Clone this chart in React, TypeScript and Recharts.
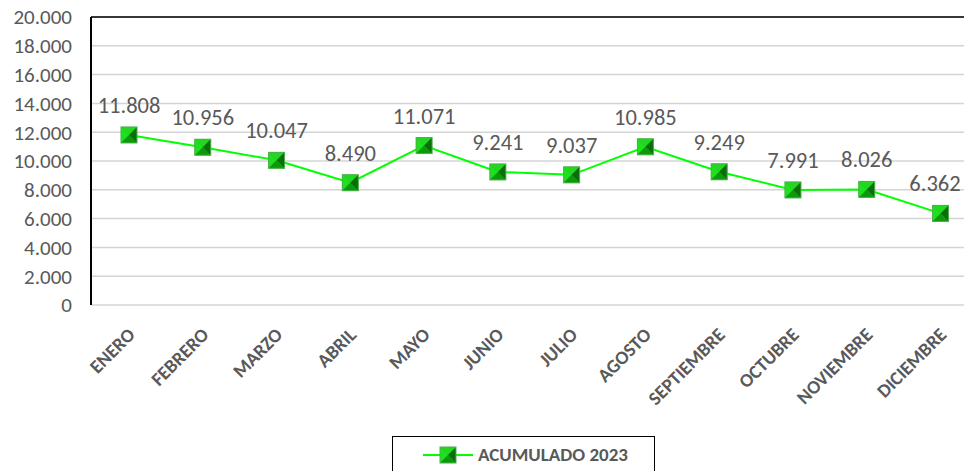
import React from "react";
import { LineChart, Line, XAxis, YAxis, CartesianGrid, LabelList, Legend, ReferenceLine } from "recharts";

const months = ["ENERO", "FEBRERO", "MARZO", "ABRIL", "MAYO", "JUNIO", "JULIO", "AGOSTO", "SEPTIEMBRE", "OCTUBRE", "NOVIEMBRE", "DICIEMBRE"];
const acumulado2023 = [11808, 10956, 10047, 8490, 11071, 9241, 9037, 10985, 9249, 7991, 8026, 6362];
const yTicks = [0, 2000, 4000, 6000, 8000, 10000, 12000, 14000, 16000, 18000, 20000];
const seriesName = "ACUMULADO 2023";

const data = months.map((m, i) => ({ month: m, value: acumulado2023[i] }));

const FONT = "Carlito, Lato, 'Liberation Sans', sans-serif";
const GREY = "#595959";

const fmtThousands = (v: number) => {
  if (v === 0) return "0";
  const s = String(v);
  return s.slice(0, s.length - 3) + "." + s.slice(s.length - 3);
};

function Marker(props: any) {
  const { cx, cy } = props;
  if (cx == null || cy == null) return null;
  const s = 8;
  return (
    <g>
      <rect x={cx - s} y={cy - s} width={s * 2} height={s * 2} fill="#12c812" />
      <polygon points={`${cx - s},${cy - s} ${cx + s},${cy - s} ${cx},${cy}`} fill="#22d622" />
      <polygon points={`${cx - s},${cy - s} ${cx - s},${cy + s} ${cx},${cy}`} fill="#1ee01e" />
      <polygon points={`${cx + s},${cy - s} ${cx + s},${cy + s} ${cx},${cy}`} fill="#0b6e0b" />
      <polygon points={`${cx - s},${cy + s} ${cx + s},${cy + s} ${cx},${cy}`} fill="#0c9a0c" />
      <rect x={cx - s} y={cy - s} width={s * 2} height={s * 2} fill="none" stroke="#4caf4c" strokeWidth={1} />
    </g>
  );
}

function MonthTick(props: any) {
  const { x, y, payload } = props;
  return (
    <text
      transform={`translate(${x + 7},${y + 31}) rotate(-45)`}
      textAnchor="end"
      fontFamily={FONT}
      fontSize={19}
      fontWeight="bold"
      fill={GREY}
    >
      {payload.value}
    </text>
  );
}

// value label above each point; keep the last one inside the picture
function ValueLabel(props: any) {
  const { x, y, value } = props;
  const txt = fmtThousands(Number(value));
  const cx = Math.min(x, 935);
  return (
    <text x={cx} y={y - 22} textAnchor="middle" fontFamily={FONT} fontSize={22.5} fill={GREY}>
      {txt}
    </text>
  );
}

function LegendBox() {
  return (
    <div
      style={{
        width: 263,
        height: 40,
        border: "1.5px solid #000",
        boxSizing: "border-box",
        display: "flex",
        alignItems: "flex-start",
        paddingTop: 8,
        paddingLeft: 30,
        fontFamily: FONT,
        fontSize: 19,
        fontWeight: "bold",
        color: GREY,
        background: "#fff",
      }}
    >
      <svg width={50} height={20} style={{ marginRight: 5 }}>
        <line x1={0} y1={10} x2={50} y2={10} stroke="#00ff00" strokeWidth={2} />
        <Marker cx={25} cy={10} />
      </svg>
      <span style={{ lineHeight: "20px" }}>{seriesName}</span>
    </div>
  );
}

export default function App() {
  return (
    <div style={{ position: "absolute", left: 0, top: 0, width: 964, height: 471, background: "#fff", overflow: "hidden" }}>
      <LineChart width={964} height={471} data={data} margin={{ top: 17, right: 0, bottom: 0, left: 0 }}>
        <CartesianGrid vertical={false} stroke="#d4d4d4" strokeWidth={1.5} />
        <XAxis
          dataKey="month"
          scale="point"
          padding={{ left: 38, right: 23.5 }}
          axisLine={false}
          tickLine={false}
          tickSize={0}
          tickMargin={0}
          height={131}
          interval={0}
          tick={<MonthTick />}
        />
        <YAxis
          width={91}
          domain={[0, 20000]}
          ticks={yTicks}
          interval={0}
          tickFormatter={fmtThousands}
          axisLine={{ stroke: "#000", strokeWidth: 2 }}
          tickLine={false}
          tickSize={0}
          tickMargin={19}
          tick={{ fontFamily: FONT, fontSize: 21, fill: GREY }}
        />
        <ReferenceLine y={20000} stroke="#000" strokeWidth={1.5} />
        <Legend
          verticalAlign="bottom"
          height={35}
          wrapperStyle={{ left: 392, width: 263, height: 35, bottom: 0 }}
          content={() => <LegendBox />}
        />
        <Line
          type="linear"
          dataKey="value"
          name={seriesName}
          stroke="#00ff00"
          strokeWidth={2}
          dot={<Marker />}
          activeDot={false}
          isAnimationActive={false}
        >
          <LabelList dataKey="value" content={<ValueLabel />} />
        </Line>
      </LineChart>
    </div>
  );
}
